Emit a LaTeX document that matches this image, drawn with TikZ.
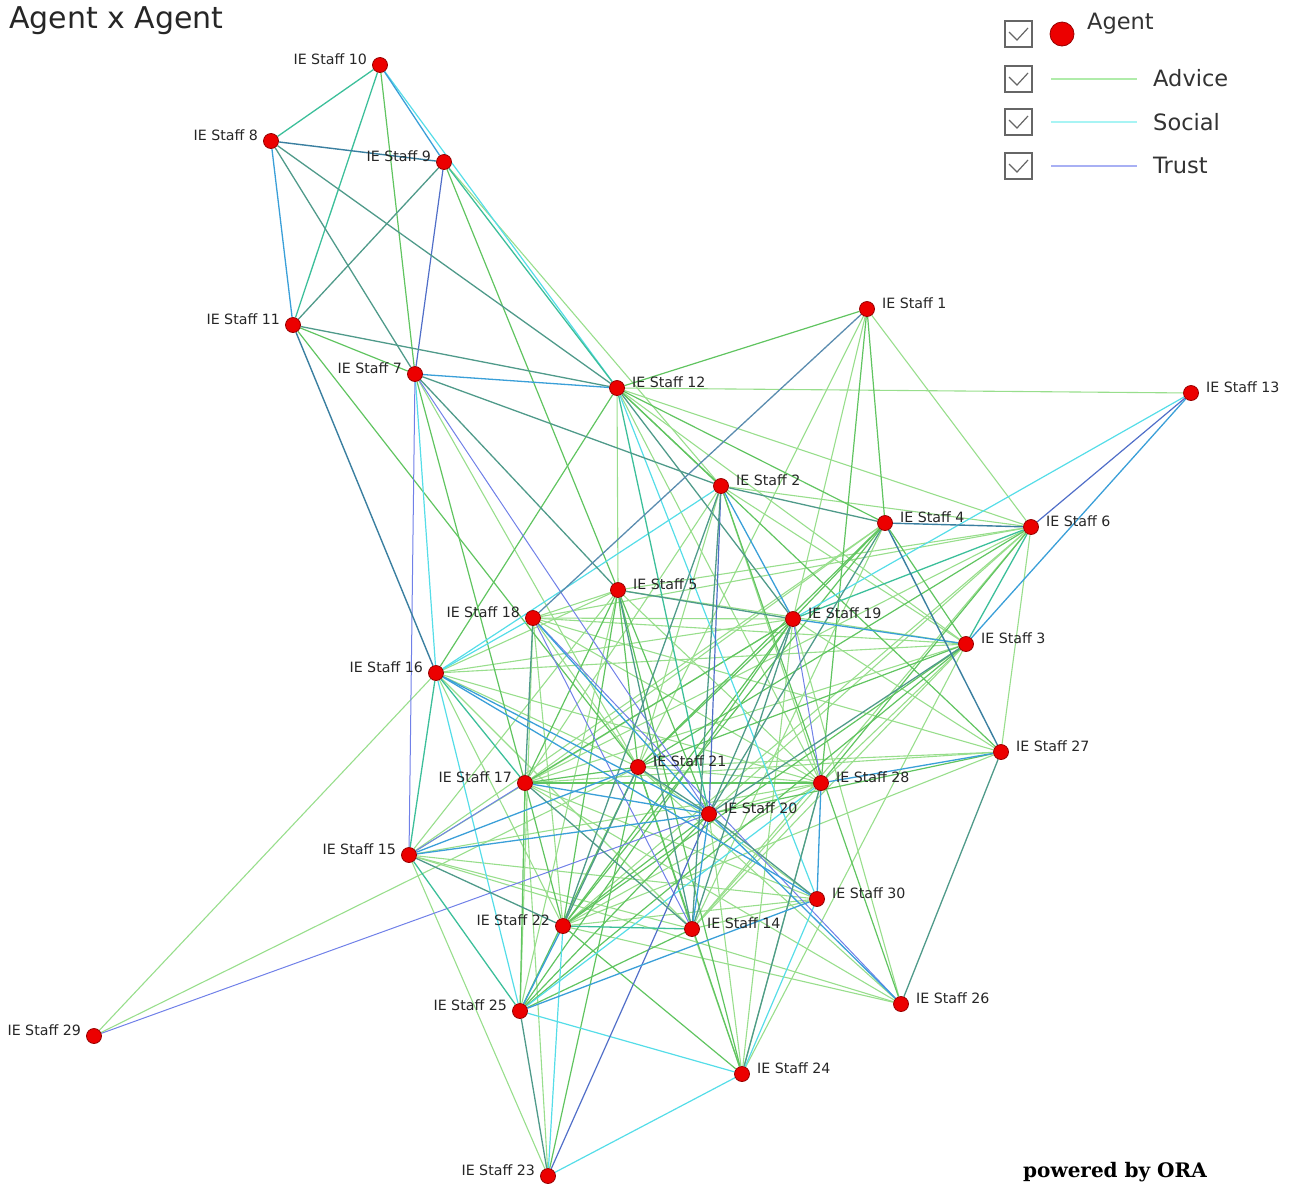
\documentclass[tikz,border=0pt]{standalone}
\usepackage{fontspec}
\setmainfont{DejaVu Sans}
\newfontfamily\orafont{DejaVu Serif}
\usetikzlibrary{backgrounds}
\definecolor{cA}{RGB}{152,222,140}
\definecolor{cAA}{RGB}{96,196,96}
\definecolor{cS}{RGB}{85,221,232}
\definecolor{cT}{RGB}{112,128,232}
\definecolor{cTD}{RGB}{80,110,200}
\definecolor{cAS}{RGB}{60,191,154}
\definecolor{cAT}{RGB}{79,154,138}
\definecolor{cST}{RGB}{58,159,216}
\definecolor{cAST}{RGB}{58,127,160}
\definecolor{cSL}{RGB}{90,140,175}
\definecolor{nodefill}{RGB}{236,0,0}
\definecolor{nodedraw}{RGB}{150,0,0}
\tikzset{
  ea/.style={draw=cA,line width=1.1pt},
  eA/.style={draw=cAA,line width=1.2pt},
  es/.style={draw=cS,line width=1.2pt},
  et/.style={draw=cT,line width=1.0pt},
  etd/.style={draw=cTD,line width=1.2pt},
  eas/.style={draw=cAS,line width=1.3pt},
  eat/.style={draw=cAT,line width=1.3pt},
  est/.style={draw=cST,line width=1.3pt},
  esl/.style={draw=cSL,line width=1.3pt},
  east/.style={draw=cAST,line width=1.4pt},
  agent/.style={circle,fill=nodefill,draw=nodedraw,line width=0.8pt,minimum size=15pt,inner sep=0pt},
  lblR/.style={anchor=west,inner sep=0pt,font=\fontsize{14.2}{15}\selectfont,text=black!85},
  lblL/.style={anchor=east,inner sep=0pt,font=\fontsize{14.2}{15}\selectfont,text=black!85},
  chk/.style={draw=black!60,line width=1.6pt},
  legtxt/.style={anchor=west,inner sep=0pt,font=\fontsize{22.5}{24}\selectfont,text=black!80},
}
\begin{document}
\begin{tikzpicture}[x=1pt,y=-1pt]
\useasboundingbox (0,0) rectangle (1298,1187);
% nodes with labels on the right
\foreach \n/\x/\y in {1/867/309,2/721/486,3/966/644,4/885/523,5/618/590,6/1031/527,12/617/388,13/1191/393,14/692/929,19/793/619,20/709/814,21/638/767,24/742/1074,26/901/1004,27/1001/752,28/821/783,30/817/899}{
  \node[agent] (n\n) at (\x,\y) {};
  \node[lblR] (l\n) at ([xshift=7pt,yshift=6pt]n\n.east) {IE Staff \n};
}
% nodes with labels on the left
\foreach \n/\x/\y in {7/415/374,8/271/141,9/444/162,10/380/65,11/293/325,15/409/855,16/436/673,17/525/783,18/533/618,22/563/926,23/548/1176,25/520/1011,29/94/1036}{
  \node[agent] (n\n) at (\x,\y) {};
  \node[lblL] (l\n) at ([xshift=-5pt,yshift=6pt]n\n.west) {IE Staff \n};
}
\begin{pgfonlayer}{background}
\foreach \a/\b/\c in {
 12/13/ea,12/6/ea,12/3/ea,12/5/ea,12/28/ea,1/6/ea,1/21/ea,1/19/ea,9/2/ea,7/21/ea,
 6/27/ea,6/2/ea,6/5/ea,6/20/ea,6/17/ea,6/22/ea,6/14/ea,6/18/ea,
 4/17/ea,4/14/ea,4/15/ea,2/17/ea,2/21/ea,2/28/ea,2/3/ea,
 5/18/ea,5/15/ea,5/25/ea,5/28/ea,5/3/ea,5/16/ea,
 18/21/ea,18/19/ea,18/22/ea,18/25/ea,18/28/ea,18/3/ea,18/27/ea,
 19/15/ea,19/16/ea,19/27/ea,19/26/ea,19/24/ea,
 3/17/ea,3/28/ea,3/14/ea,3/24/ea,3/16/ea,
 27/21/ea,27/17/ea,27/22/ea,
 16/21/ea,16/22/ea,16/14/ea,16/28/ea,16/29/ea,
 17/30/ea,21/28/ea,21/26/ea,21/30/ea,28/20/ea,28/15/ea,28/22/ea,28/14/ea,28/24/ea,
 20/24/ea,15/30/ea,15/14/ea,22/30/ea,22/26/ea,14/24/ea,14/30/ea,
 23/17/ea,23/15/ea,26/17/ea,26/15/ea,29/21/ea,
 9/5/eA,11/21/eA,11/7/eA,7/17/eA,10/7/eA,12/1/eA,12/2/eA,12/4/eA,12/27/eA,12/16/eA,
 1/4/eA,1/28/eA,6/21/eA,6/28/eA,4/19/eA,4/3/eA,4/21/eA,4/22/eA,2/26/eA,
 5/21/eA,5/20/eA,5/17/eA,5/22/eA,5/24/eA,
 19/21/eA,19/17/eA,19/22/eA,19/25/eA,3/21/eA,3/22/eA,3/25/eA,27/20/eA,
 17/21/eA,17/28/eA,17/22/eA,17/25/eA,21/25/eA,21/14/eA,21/24/eA,
 20/22/eA,20/25/eA,22/24/eA,14/25/eA,23/21/eA,
 10/12/es,7/16/es,12/30/es,13/19/es,2/16/es,18/16/es,16/25/es,28/25/es,22/23/es,30/24/es,25/24/es,24/23/es,
 7/15/et,7/20/et,9/7/etd,2/20/etd,18/26/et,18/14/et,19/28/et,17/15/et,20/23/etd,20/29/et,13/6/etd,
 10/8/eas,10/11/eas,9/12/eas,6/3/eas,6/19/eas,16/17/eas,16/15/eas,15/25/eas,22/14/eas,12/20/eas,
 8/7/eat,8/12/eat,9/11/eat,11/12/eat,7/5/eat,7/2/eat,12/19/eat,4/2/eat,4/20/eat,2/22/eat,2/14/eat,
 5/19/eat,5/14/eat,18/17/eat,19/20/eat,19/14/eat,3/20/eat,27/26/eat,17/14/eat,21/20/eat,21/22/eat,
 20/30/eat,15/22/eat,25/23/eat,24/28/eat,
 10/9/est,8/11/est,7/12/est,1/18/esl,13/3/est,2/19/est,18/20/est,19/3/est,27/28/est,
 16/20/est,16/30/est,17/20/est,21/15/est,28/30/est,20/15/est,20/14/est,20/26/est,22/25/est,30/25/est,
 8/9/east,11/16/east,6/4/east,4/27/east}
 \draw[\c] (n\a) -- (n\b);
\end{pgfonlayer}
% title
\node[anchor=west,inner sep=0pt,font=\fontsize{30}{32}\selectfont,text=black!85] (title) at (9,21) {Agent x Agent};
% legend
\foreach \i/\y in {1/34,2/79,3/122,4/166}{
  \draw[chk] (1005,\y-13) rectangle (1032,\y+13);
  \draw[draw=black!60,line width=1.2pt] (1009,\y-2) -- (1017,\y+6) -- (1028,\y-6);
}
\node[circle,fill=nodefill,draw=nodedraw,line width=0.8pt,minimum size=24pt,inner sep=0pt] (legagent) at (1062,34) {};
\node[legtxt] (tagent) at (1087,24) {Agent};
\coordinate (la1) at (1051,79); \coordinate (la2) at (1137,79);
\draw[draw={rgb,255:red,176;green,236;blue,170},line width=1.2pt] (la1) -- (la2);
\node[legtxt] (tadvice) at (1153,78) {Advice};
\coordinate (ls1) at (1051,122); \coordinate (ls2) at (1137,122);
\draw[draw={rgb,255:red,168;green,244;blue,244},line width=1.2pt] (ls1) -- (ls2);
\node[legtxt] (tsocial) at (1153,122) {Social};
\coordinate (lt1) at (1051,166); \coordinate (lt2) at (1137,166);
\draw[draw={rgb,255:red,168;green,176;blue,244},line width=1.2pt] (lt1) -- (lt2);
\node[legtxt] (ttrust) at (1153,165) {Trust};
% footer
\node[anchor=west,inner sep=0pt,font=\orafont\bfseries\fontsize{20}{22}\selectfont] (ora) at (1023,1172) {powered by ORA};
\end{tikzpicture}
\end{document}
